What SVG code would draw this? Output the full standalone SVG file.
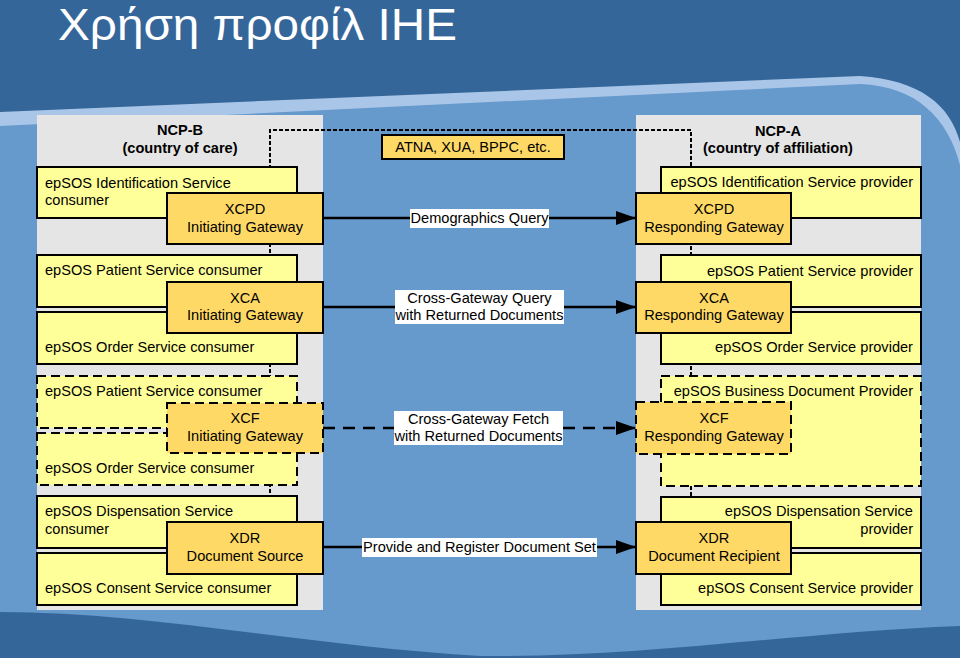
<svg xmlns="http://www.w3.org/2000/svg" width="960" height="658" viewBox="0 0 960 658">
<defs>
<marker id="arr" viewBox="0 0 20 14" refX="20" refY="7" markerWidth="20" markerHeight="14" markerUnits="userSpaceOnUse" orient="auto">
<path d="M0,0 L20,7 L0,14 Z" fill="#000"/>
</marker>
<style>
text{font-family:"Liberation Sans",Arial,sans-serif;font-size:14.6px;fill:#000}
.title{font-size:45px;fill:#fff}
.hd{font-weight:bold;text-anchor:middle}
.panel{fill:#e5e5e5}
.svc{fill:#ffff99;stroke:#000;stroke-width:2}
.gw{fill:#ffd966;stroke:#000;stroke-width:2}
.dash{stroke-dasharray:9,5}
.c{text-anchor:middle}
.r{text-anchor:end}
.conn{stroke:#000;stroke-width:2.5;fill:none}
.lbl{fill:#fff}
.sec{stroke:#000;stroke-width:2;fill:none;stroke-dasharray:4,2}
</style>
</defs>
<!-- background -->
<rect x="0" y="0" width="960" height="658" fill="#6699cc"/>
<path d="M0,0 H960 V165 C948,118 916,86 860,84 L0,126 Z" fill="#a9c6e8"/>
<path d="M0,0 H960 V142 C950,105 920,80 860,76 L0,112 Z" fill="#346699"/>
<path d="M0,612 C150,612 300,645 480,656 C640,658 800,632 960,626 V658 H0 Z" fill="#346699"/>
<text class="title" x="58" y="40" textLength="399" lengthAdjust="spacingAndGlyphs">Χρήση προφίλ IHE</text>

<!-- panels -->
<g id="ncp-b">
<rect class="panel" x="37" y="115" width="286" height="495"/>
<text class="hd" x="180" y="135">NCP-B</text>
<text class="hd" x="180" y="153">(country of care)</text>
</g>
<g id="ncp-a">
<rect class="panel" x="636" y="115" width="285" height="495"/>
<text class="hd" x="778" y="136">NCP-A</text>
<text class="hd" x="778" y="153">(country of affiliation)</text>
</g>

<g id="connectors">
<path class="sec" d="M270,553 V130 H691 V553"/>
<line class="conn" x1="323" y1="218" x2="636" y2="218" marker-end="url(#arr)"/>
<line class="conn" x1="323" y1="307" x2="636" y2="307" marker-end="url(#arr)"/>
<line class="conn" x1="323" y1="428" x2="636" y2="428" marker-end="url(#arr)" stroke-dasharray="12,8"/>
<line class="conn" x1="323" y1="547" x2="636" y2="547" marker-end="url(#arr)"/>
<rect class="lbl" x="410" y="209" width="139" height="19"/>
<text class="c" x="479.5" y="223">Demographics Query</text>
<rect class="lbl" x="395" y="290" width="169" height="34"/>
<text class="c" x="479.5" y="303">Cross-Gateway Query</text>
<text class="c" x="479.5" y="320">with Returned Documents</text>
<rect class="lbl" x="394" y="411" width="169" height="34"/>
<text class="c" x="478.5" y="424">Cross-Gateway Fetch</text>
<text class="c" x="478.5" y="441">with Returned Documents</text>
<rect class="lbl" x="362" y="538" width="235" height="19"/>
<text class="c" x="479.5" y="552">Provide and Register Document Set</text>
</g>

<g id="atna">
<rect class="gw" x="382" y="135" width="182" height="24"/>
<text class="c" x="473" y="152">ATNA, XUA, BPPC, etc.</text>
</g>

<!-- NCP-B services -->
<g id="id-consumer">
<rect class="svc" x="37" y="167" width="260" height="51"/>
<text x="45" y="188">epSOS Identification Service</text>
<text x="45" y="205">consumer</text>
</g>
<g id="xcpd-ig">
<rect class="gw" x="167" y="193" width="156" height="51"/>
<text class="c" x="245" y="214">XCPD</text>
<text class="c" x="245" y="232">Initiating Gateway</text>
</g>
<g id="patient-consumer">
<rect class="svc" x="37" y="255" width="260" height="52"/>
<text x="45" y="275">epSOS Patient Service consumer</text>
</g>
<g id="order-consumer">
<rect class="svc" x="37" y="312" width="260" height="52"/>
<text x="45" y="352">epSOS Order Service consumer</text>
</g>
<g id="xca-ig">
<rect class="gw" x="167" y="282" width="156" height="51"/>
<text class="c" x="245" y="303">XCA</text>
<text class="c" x="245" y="320">Initiating Gateway</text>
</g>
<g id="patient-consumer-2">
<rect class="svc dash" x="37" y="376" width="260" height="52"/>
<text x="45" y="396">epSOS Patient Service consumer</text>
</g>
<g id="order-consumer-2">
<rect class="svc dash" x="37" y="433" width="260" height="52"/>
<text x="45" y="473">epSOS Order Service consumer</text>
</g>
<g id="xcf-ig">
<rect class="gw dash" x="167" y="403" width="156" height="50"/>
<text class="c" x="245" y="423">XCF</text>
<text class="c" x="245" y="441">Initiating Gateway</text>
</g>
<g id="disp-consumer">
<rect class="svc" x="37" y="496" width="260" height="52"/>
<text x="45" y="516">epSOS Dispensation Service</text>
<text x="45" y="534">consumer</text>
</g>
<g id="consent-consumer">
<rect class="svc" x="37" y="553" width="260" height="52"/>
<text x="45" y="593">epSOS Consent Service consumer</text>
</g>
<g id="xdr-source">
<rect class="gw" x="167" y="522" width="156" height="52"/>
<text class="c" x="245" y="543">XDR</text>
<text class="c" x="245" y="561">Document Source</text>
</g>

<!-- NCP-A services -->
<g id="id-provider">
<rect class="svc" x="661" y="167" width="260" height="51"/>
<text class="r" x="913" y="187">epSOS Identification Service provider</text>
</g>
<g id="xcpd-rg">
<rect class="gw" x="636" y="193" width="155" height="51"/>
<text class="c" x="714" y="214">XCPD</text>
<text class="c" x="714" y="232">Responding Gateway</text>
</g>
<g id="patient-provider">
<rect class="svc" x="661" y="255" width="260" height="52"/>
<text class="r" x="913" y="276">epSOS Patient Service provider</text>
</g>
<g id="order-provider">
<rect class="svc" x="661" y="312" width="260" height="52"/>
<text class="r" x="913" y="352">epSOS Order Service provider</text>
</g>
<g id="xca-rg">
<rect class="gw" x="636" y="282" width="155" height="51"/>
<text class="c" x="714" y="303">XCA</text>
<text class="c" x="714" y="320">Responding Gateway</text>
</g>
<g id="bdp">
<rect class="svc dash" x="661" y="376" width="260" height="110"/>
<text class="r" x="913" y="396">epSOS Business Document Provider</text>
</g>
<g id="xcf-rg">
<rect class="gw dash" x="636" y="402" width="155" height="52"/>
<text class="c" x="714" y="423">XCF</text>
<text class="c" x="714" y="441">Responding Gateway</text>
</g>
<g id="disp-provider">
<rect class="svc" x="661" y="497" width="260" height="51"/>
<text class="r" x="913" y="516">epSOS Dispensation Service</text>
<text class="r" x="913" y="534">provider</text>
</g>
<g id="consent-provider">
<rect class="svc" x="661" y="553" width="260" height="52"/>
<text class="r" x="913" y="593">epSOS Consent Service provider</text>
</g>
<g id="xdr-recipient">
<rect class="gw" x="636" y="522" width="155" height="52"/>
<text class="c" x="714" y="543">XDR</text>
<text class="c" x="714" y="561">Document Recipient</text>
</g>
</svg>
